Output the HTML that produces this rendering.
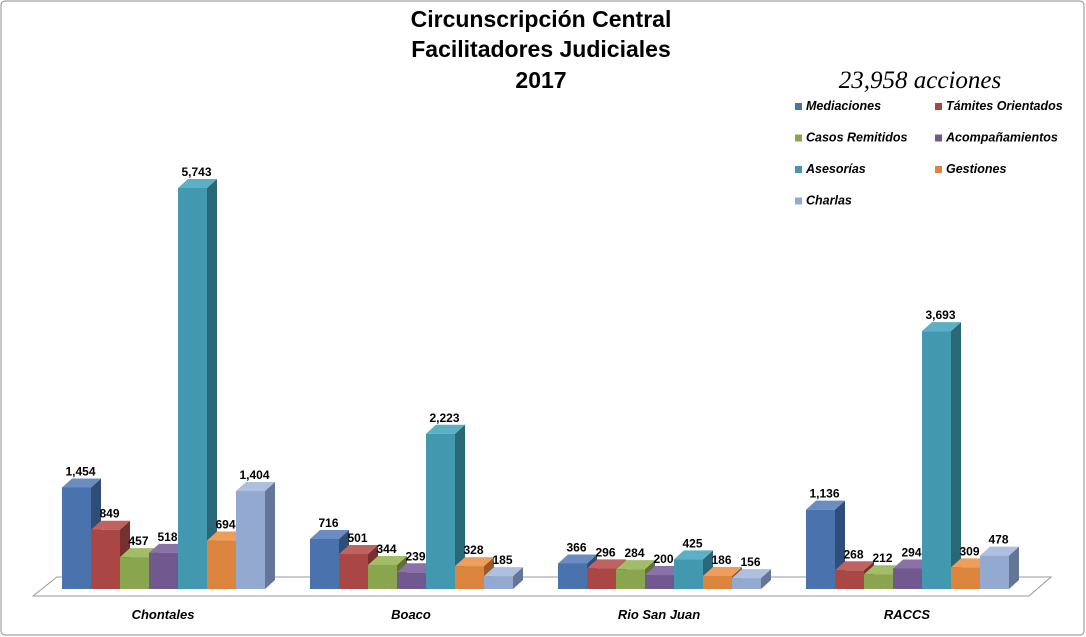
<!DOCTYPE html>
<html><head><meta charset="utf-8"><style>
body{margin:0;background:#fff;}
svg{display:block;font-family:"Liberation Sans",sans-serif;}
</style></head><body>
<svg id="chart" width="1086" height="637" viewBox="0 0 1086 637">
<rect x="1" y="1" width="1083" height="634" rx="4" fill="#fff" stroke="#8c8c8c"/>
<g font-weight="bold" font-size="23" text-anchor="middle" fill="#000">
<text x="541" y="27">Circunscripción Central</text>
<text x="541" y="57">Facilitadores Judiciales</text>
<text x="541" y="88">2017</text>
</g>
<text x="920" y="88" text-anchor="middle" font-family="Liberation Serif,serif" font-style="italic" font-size="25">23,958 acciones</text>
<polygon points="33,596 57,577 1051,577 1029,596" fill="#fff" stroke="#999"/>
<g id="bars"></g>
<g id="legend"></g>
<g id="cats"></g>
</svg>
<script>
const categories=["Chontales","Boaco","Rio San Juan","RACCS"];
const seriesNames=["Mediaciones","Támites Orientados","Casos Remitidos","Acompañamientos","Asesorías","Gestiones","Charlas"];
const mediaciones=[1454,716,366,1136];
const tramites=[849,501,296,268];
const casos=[457,344,284,212];
const acompanamientos=[518,239,200,294];
const asesorias=[5743,2223,425,3693];
const gestiones=[694,328,186,309];
const charlas=[1404,185,156,478];
const series=[mediaciones,tramites,casos,acompanamientos,asesorias,gestiones,charlas];
const colors=[["#4a72ac","#6a8cc0","#2f4d78"],["#aa4643","#c06360","#76302e"],["#89a54e","#a2bc68","#5d7234"],["#71588f","#8a72a8","#4c3b62"],["#4198af","#5cb0c6","#2a6878"],["#db843d","#ee9d5a","#9a5a26"],["#93a9cf","#adc0e0","#64759a"]];
const NS="http://www.w3.org/2000/svg";
const base=589, scale=401/5743, gx0=62, gstep=248, bw=29, dx=10, dy=9;
function y(v){return base-v*scale;}
function xb(g,s){return gx0+g*gstep+s*bw;}
function fmt(v){return v.toLocaleString("en-US");}
const bars=document.getElementById("bars");
for(let g=0;g<categories.length;g++){
 for(let s=0;s<series.length;s++){
  const v=series[s][g],x=xb(g,s),t=y(v),c=colors[s];
  const grp=document.createElementNS(NS,"g");
  
  
  const side=document.createElementNS(NS,"polygon");
  side.setAttribute("points",`${x+bw},${t} ${x+bw+dx},${t-dy} ${x+bw+dx},${base-dy} ${x+bw},${base}`);
  side.setAttribute("fill",c[2]);grp.appendChild(side);
  const top=document.createElementNS(NS,"polygon");
  top.setAttribute("points",`${x},${t} ${x+dx},${t-dy} ${x+bw+dx},${t-dy} ${x+bw},${t}`);
  top.setAttribute("fill",c[1]);grp.appendChild(top);
  const fr=document.createElementNS(NS,"rect");
  fr.setAttribute("x",x);fr.setAttribute("y",t);fr.setAttribute("width",bw);fr.setAttribute("height",base-t);fr.setAttribute("fill",c[0]);
  grp.appendChild(fr);
  bars.appendChild(grp);
  const lb=document.createElementNS(NS,"text");
  
  
  lb.setAttribute("x",x+bw/2+4);lb.setAttribute("y",t-12);lb.setAttribute("text-anchor","middle");
  lb.setAttribute("font-size","12");lb.setAttribute("font-weight","bold");
  lb.textContent=fmt(v);bars.appendChild(lb);
 }
}
const cats=document.getElementById("cats");
categories.forEach((c,g)=>{
 const t=document.createElementNS(NS,"text");
 
 
 t.setAttribute("x",gx0+g*gstep+101);t.setAttribute("y",619);t.setAttribute("text-anchor","middle");
 t.setAttribute("font-size","13");t.setAttribute("font-weight","bold");t.setAttribute("font-style","italic");
 t.textContent=c;cats.appendChild(t);
});
const leg=document.getElementById("legend");
seriesNames.forEach((n,i)=>{
 const lx=i%2?935:795, ly=110+Math.floor(i/2)*31.5;
 const g=document.createElementNS(NS,"g");
 
 
 const r=document.createElementNS(NS,"rect");
 r.setAttribute("x",lx);r.setAttribute("y",ly-7);r.setAttribute("width",7);r.setAttribute("height",7);r.setAttribute("fill",colors[i][0]);
 g.appendChild(r);
 const t=document.createElementNS(NS,"text");
 t.setAttribute("x",lx+11);t.setAttribute("y",ly);t.setAttribute("font-size","12.5");t.setAttribute("font-weight","bold");t.setAttribute("font-style","italic");
 t.textContent=n;g.appendChild(t);
 leg.appendChild(g);
});
</script>
</body></html>
